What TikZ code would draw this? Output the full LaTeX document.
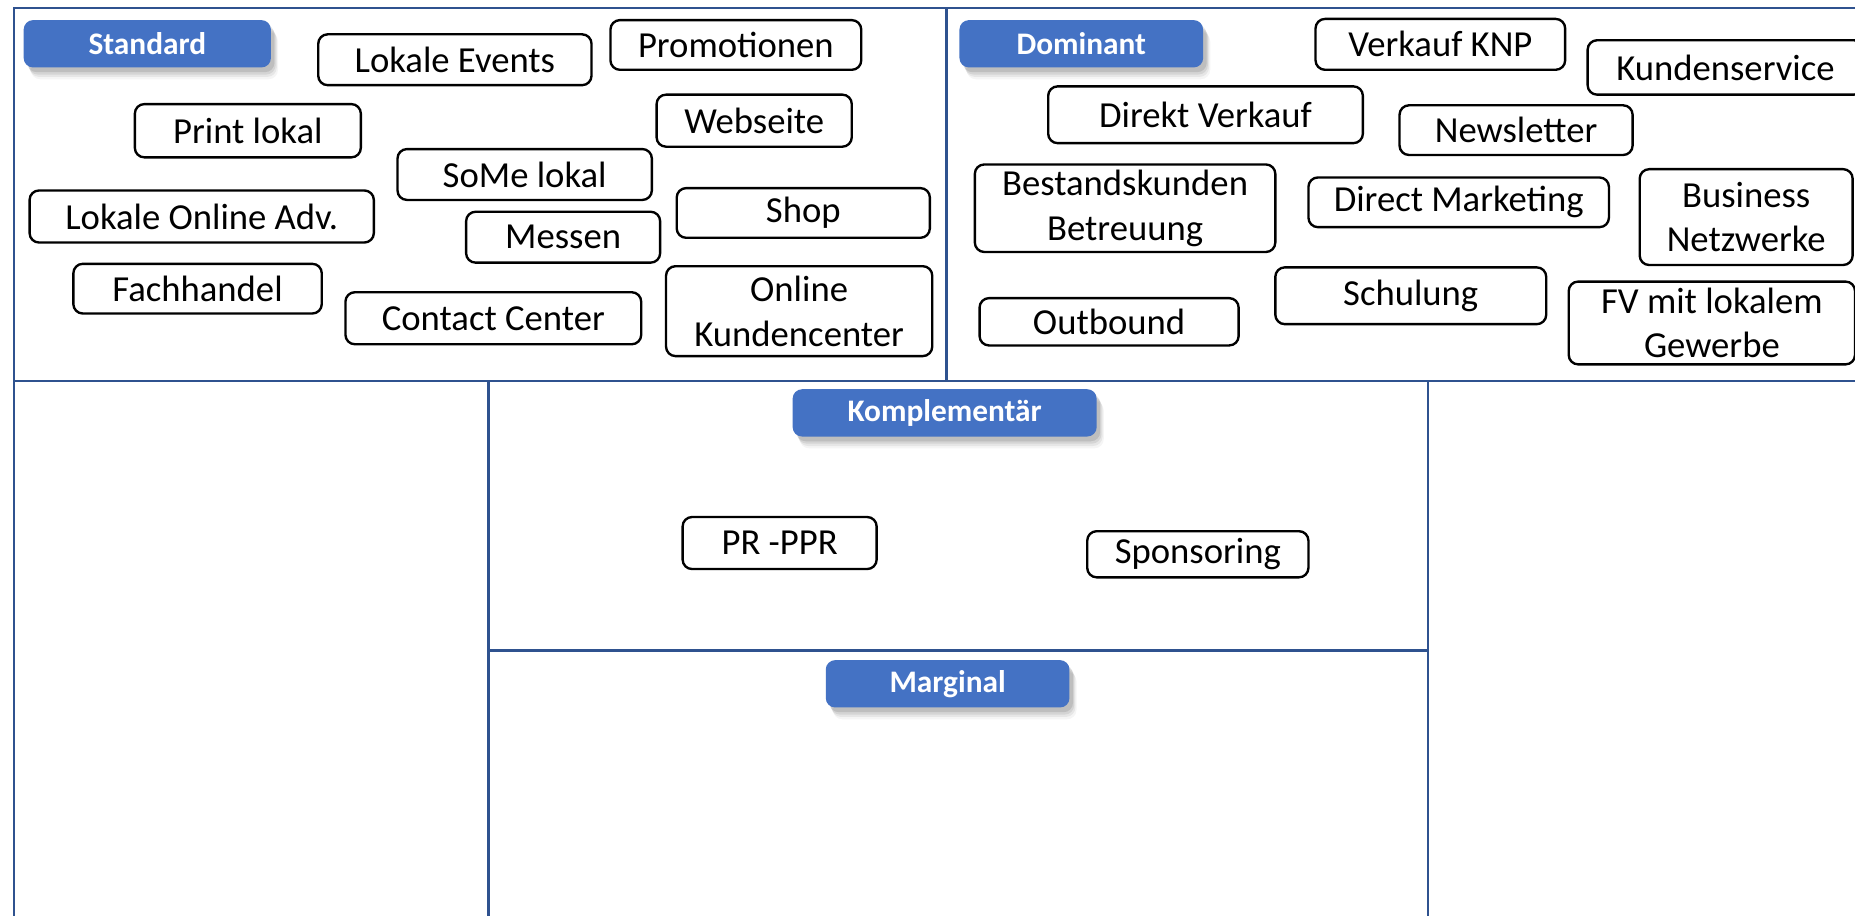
\documentclass[tikz,border=0pt]{standalone}
\usepackage{fontspec}
\setmainfont{Carlito}
\usetikzlibrary{shadows}
\definecolor{tagblue}{HTML}{4472C4}
\definecolor{framecol}{HTML}{2F528F}
\tikzset{
  itembox/.style={draw=black, line width=2pt, rounded corners=8pt, fill=white,
    inner sep=0pt, align=center, font=\fontsize{31}{37.8}\selectfont},
  tagbox/.style={fill=tagblue, rounded corners=8pt, inner sep=0pt, text=white,
    minimum height=40pt, font=\fontsize{26.5}{30}\selectfont\bfseries,
    general shadow={shadow xshift=3pt, shadow yshift=-4pt, fill=black, opacity=0.10},
    general shadow={shadow xshift=4pt, shadow yshift=-6pt, fill=black, opacity=0.08},
    general shadow={shadow xshift=5pt, shadow yshift=-8pt, fill=black, opacity=0.06},
    general shadow={shadow xshift=6pt, shadow yshift=-10pt, fill=black, opacity=0.04}},
  frameline/.style={draw=framecol, line width=2pt}
}
\begin{document}
\begin{tikzpicture}[x=1pt, y=-1pt]
\useasboundingbox (0,0) rectangle (1568,774);
\clip (0,0) rectangle (1568,774);
\fill[white] (0,0) rectangle (1568,774);
% frame
\coordinate (tl) at (12,7);
\coordinate (tr) at (1570,7);
\coordinate (ml) at (12,322);
\coordinate (mr) at (1570,322);
\coordinate (bl) at (12,776);
\coordinate (vt) at (800,7);
\coordinate (vb) at (800,322);
\coordinate (c1t) at (413,322);
\coordinate (c1b) at (413,776);
\coordinate (c2t) at (1207,322);
\coordinate (c2b) at (1207,776);
\coordinate (hl) at (413,550);
\coordinate (hr) at (1207,550);
\draw[frameline] (tr) -- (tl) -- (bl);
\draw[frameline] (ml) -- (mr);
\draw[frameline] (vt) -- (vb);
\draw[frameline] (c1t) -- (c1b);
\draw[frameline] (c2t) -- (c2b);
\draw[frameline, line width=2.6pt] (hl) -- (hr);
% tags
\node[tagbox, minimum width=209pt] (standard) at (124.5,37) {Standard};
\node[tagbox, minimum width=206pt] (dominant) at (914,37) {Dominant};
\node[tagbox, minimum width=257pt] (kompl) at (798.5,349) {Komplementär};
\node[tagbox, minimum width=206pt] (marginal) at (801,578) {Marginal};
% Standard items
\node[itembox, minimum width=231pt, minimum height=43pt] (events) at (384.5,50.5) {Lokale Events};
\node[itembox, minimum width=212pt, minimum height=42pt] (promo) at (622,38) {Promotionen};
\node[itembox, minimum width=191pt, minimum height=45pt] (print) at (209.5,110.5) {Print lokal};
\node[itembox, minimum width=165pt, minimum height=44pt] (web) at (637.5,102) {Webseite};
\node[itembox, minimum width=215pt, minimum height=43pt] (some) at (443.5,147.5) {SoMe lokal};
\node[itembox, minimum width=291pt, minimum height=44pt] (onladv) at (170.5,183) {Lokale Online Adv.};
\node[itembox, minimum width=214pt, minimum height=42pt] (shop) at (679,180) {Shop};
\node[itembox, minimum width=164pt, minimum height=43pt] (messen) at (476,200.5) {Messen};
\node[itembox, minimum width=210pt, minimum height=42pt] (fach) at (167,244) {Fachhandel};
\node[itembox, minimum width=250pt, minimum height=44pt] (contact) at (417,269) {Contact Center};
\node[itembox, minimum width=225pt, minimum height=76pt] (okc) at (675.5,263) {Online\\Kundencenter};
% Dominant items
\node[itembox, minimum width=211pt, minimum height=43pt] (vknp) at (1217.5,37.5) {Verkauf KNP};
\node[itembox, minimum width=233pt, minimum height=46pt] (kservice) at (1458.5,57) {Kundenservice};
\node[itembox, minimum width=266pt, minimum height=48pt] (direkt) at (1019,97) {Direkt Verkauf};
\node[itembox, minimum width=197pt, minimum height=42pt] (news) at (1281.5,110) {Newsletter};
\node[itembox, minimum width=254pt, minimum height=74pt] (bestand) at (951,176) {Bestandskunden\\Betreuung};
\node[itembox, minimum width=254pt, minimum height=42pt] (dm) at (1233,171) {Direct Marketing};
\node[itembox, minimum width=180pt, minimum height=81pt] (bn) at (1476,183.5) {Business\\Netzwerke};
\node[itembox, minimum width=229pt, minimum height=48pt] (schulung) at (1192.5,250) {Schulung};
\node[itembox, minimum width=219pt, minimum height=40pt] (outbound) at (937.5,272) {Outbound};
\node[itembox, minimum width=242pt, minimum height=70pt] (fv) at (1447,273) {FV mit lokalem\\Gewerbe};
% Komplementaer items
\node[itembox, minimum width=164pt, minimum height=44pt] (pr) at (659,459) {PR -PPR};
\node[itembox, minimum width=187pt, minimum height=39pt] (spons) at (1012.5,468.5) {Sponsoring};
\end{tikzpicture}
\end{document}
